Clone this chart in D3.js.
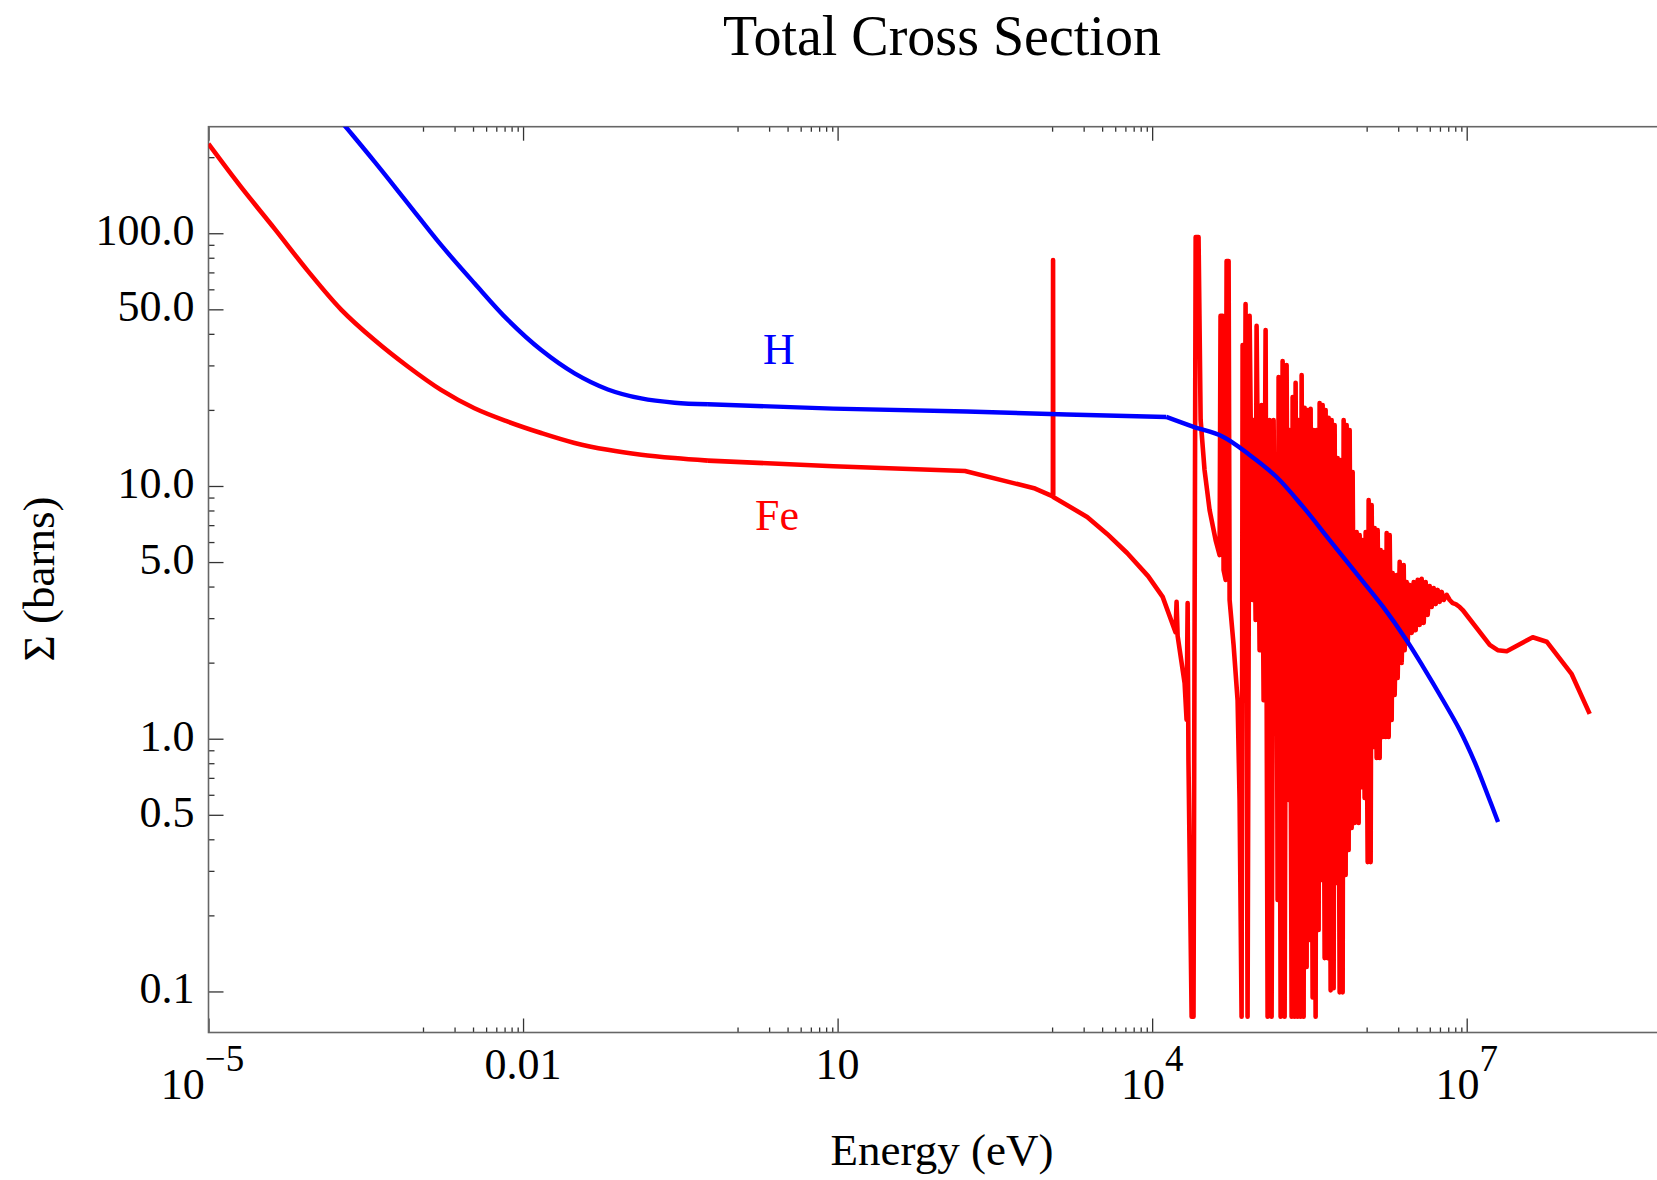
<!DOCTYPE html>
<html>
<head>
<meta charset="utf-8">
<script src="https://cdn.jsdelivr.net/npm/d3@7"></script>
<style>
  body { margin: 0; background: #fff; }
  svg text { font-family: "Liberation Serif", "Times New Roman", serif; }
</style>
</head>
<body>
<div id="chart-area"></div>
<script>
/*
*    Total cross section, H vs Fe (log-log)
*/

// ---- data: [energy (eV), sigma (barns)] ----
var hData = [
  [1.434e-4, 314.5], [1.908e-4, 272.4], [3.83e-4, 192.0], [7.96e-4, 131.4],
  [1.65e-3, 89.9], [3.44e-3, 63.4], [7.16e-3, 45.4], [0.0149, 34.5],
  [0.031, 27.9], [0.0644, 24.1], [0.134, 22.2], [0.279, 21.36], [0.58, 21.05],
  [9.1, 20.24], [170.6, 19.70], [1535, 19.18], [1.363e4, 18.76],
  [2.446e4, 17.17], [4.73e4, 15.67], [8.50e4, 13.27], [1.529e5, 10.88],
  [2.742e5, 8.28], [4.93e5, 6.11], [8.86e5, 4.51], [1.590e6, 3.33],
  [2.659e6, 2.46], [3.83e6, 1.93], [5.94e6, 1.42], [8.58e6, 1.083],
  [1.192e7, 0.808], [1.586e7, 0.599], [1.99e7, 0.468]
];

var feData = [
  [1e-5, 225.7], [2.04e-5, 152.5], [4.26e-5, 104.3], [8.85e-5, 71.0],
  [1.84e-4, 49.9], [3.83e-4, 37.8], [7.96e-4, 29.7], [1.65e-3, 24.0],
  [3.44e-3, 20.3], [7.16e-3, 17.97], [0.0149, 16.2], [0.031, 14.8],
  [0.0644, 13.9], [0.134, 13.3], [0.279, 12.9], [0.58, 12.6],
  [9.1, 11.97], [164, 11.47], [765, 9.77], [1130, 9.1], [1135, 78.3], [1140, 9.05],
  [2400, 7.54], [3720, 6.46], [5770, 5.43], [9150, 4.40], [1.26e4, 3.64],
  [1.67e4, 2.64], [1.71e4, 3.48], [1.75e4, 2.55], [2.04e4, 1.66], [2.13e4, 1.19],
  [2.18e4, 3.44], [2.22e4, 0.823], [2.38e4, 0.0794], [2.48e4, 0.0794],
  [2.60e4, 96.7], [2.77e4, 96.7], [2.90e4, 18.25], [3.16e4, 11.57], [3.53e4, 8.04],
  [4.03e4, 6.11], [4.40e4, 5.33], [4.49e4, 47.1], [4.70e4, 47.1], [4.80e4, 4.65],
  [5.02e4, 4.25], [5.13e4, 77.7], [5.36e4, 77.7], [5.48e4, 3.54], [5.98e4, 2.35],
  [6.53e4, 1.42], [6.82e4, 0.572], [7.13e4, 0.0794], [7.29e4, 36.1], [7.62e4, 5.10],
  [7.78e4, 52.5], [8.13e4, 0.0794], [8.50e4, 47.1], [9.08e4, 3.54], [9.28e4, 18.25],
  [9.70e4, 2.95], [9.91e4, 43.0], [1.059e5, 2.24], [1.106e5, 20.9], [1.156e5, 1.42],
  [1.208e5, 41.4], [1.262e5, 0.0794], [1.319e5, 18.25], [1.378e5, 0.0794],
  [1.44e5, 18.25], [1.505e5, 1.42], [1.538e5, 7.54], [1.572e5, 0.23], [1.607e5, 27.0],
  [1.68e5, 0.0794], [1.755e5, 31.2], [1.834e5, 0.0794], [1.916e5, 30.1], [2.0e5, 0.572],
  [2.047e5, 16.66], [2.139e5, 0.0794], [2.187e5, 22.5], [2.285e5, 0.0794],
  [2.335e5, 25.6], [2.44e5, 0.0794], [2.495e5, 18.25], [2.607e5, 0.0794],
  [2.665e5, 27.5], [2.784e5, 0.0794], [2.846e5, 20.4], [2.974e5, 0.125],
  [3.04e5, 19.99], [3.176e5, 0.16], [3.247e5, 20.2], [3.392e5, 0.0947],
  [3.468e5, 16.66], [3.623e5, 0.0794], [3.704e5, 16.66], [3.871e5, 0.175],
  [3.957e5, 21.3], [4.135e5, 0.276], [4.227e5, 20.9], [4.416e5, 0.1355],
  [4.514e5, 19.99], [4.717e5, 0.1355], [4.822e5, 18.6], [5.038e5, 0.101],
  [5.15e5, 18.25], [5.382e5, 0.103], [5.501e5, 17.44], [5.748e5, 0.269],
  [5.876e5, 12.9], [6.14e5, 0.0992], [6.276e5, 12.67], [6.558e5, 0.0992],
  [6.704e5, 18.25], [7.005e5, 0.289], [7.16e5, 17.44], [7.483e5, 0.363],
  [7.649e5, 16.66], [7.992e5, 0.4435], [8.17e5, 11.36], [8.536e5, 0.464],
  [8.92e5, 6.58], [9.321e5, 0.464], [9.528e5, 6.40], [9.956e5, 0.6435],
  [1.018e6, 6.11], [1.063e6, 0.583], [1.087e6, 6.58], [1.136e6, 0.325],
  [1.161e6, 8.80], [1.213e6, 0.325], [1.240e6, 8.41], [1.296e6, 0.927],
  [1.325e6, 6.82], [1.384e6, 0.839], [1.415e6, 6.70], [1.479e6, 0.839],
  [1.512e6, 5.58], [1.580e6, 1.016], [1.615e6, 5.48], [1.687e6, 1.016],
  [1.725e6, 6.52], [1.802e6, 1.016], [1.842e6, 6.40], [1.925e6, 1.186],
  [1.967e6, 4.52], [2.056e6, 1.49], [2.148e6, 4.44], [2.196e6, 1.739],
  [2.295e6, 5.01], [2.398e6, 1.995], [2.506e6, 4.87], [2.561e6, 2.24],
  [2.676e6, 4.17], [2.736e6, 2.39], [2.859e6, 4.06], [2.987e6, 2.62],
  [3.122e6, 4.17], [3.262e6, 2.69], [3.408e6, 4.25], [3.561e6, 2.82],
  [3.721e6, 4.29], [3.888e6, 2.87], [4.062e6, 4.17], [4.245e6, 3.09],
  [4.436e6, 4.02], [4.635e6, 3.32], [4.843e6, 3.95], [5.061e6, 3.41],
  [5.289e6, 3.88], [5.526e6, 3.48], [5.774e6, 3.81], [6.033e6, 3.54],
  [6.444e6, 3.71], [6.884e6, 3.54], [7.353e6, 3.44], [7.853e6, 3.41],
  [8.576e6, 3.32], [9.16e6, 3.23], [1.658e7, 2.35], [1.976e7, 2.24],
  [2.408e7, 2.22], [4.262e7, 2.52], [5.795e7, 2.42], [1.004e8, 1.80], [1.49e8, 1.254]
];

// ticks
var xMajor = [1e-5, 0.01, 10, 1e4, 1e7];
var xLabels = ["10^\u22125", "0.01", "10", "10^4", "10^7"];
var yMajor = [0.1, 0.5, 1, 5, 10, 50, 100];
var yLabels = ["0.1", "0.5", "1.0", "5.0", "10.0", "50.0", "100.0"];
var yMinor = [0.2, 0.3, 0.4, 0.6, 0.7, 0.8, 0.9, 2, 3, 4, 6, 7, 8, 9,
              20, 30, 40, 60, 70, 80, 90, 200];

// ---- layout ----
var W = 1657, H = 1180;
var plot = {left: 208.5, right: 1676.4, top: 126.7, bottom: 1032.5};

var svg = d3.select("#chart-area")
  .append("svg")
    .attr("width", W)
    .attr("height", H);

var xScale = d3.scaleLog()
  .domain([1e-5, 1e9])
  .range([plot.left, plot.right]);

var yScale = d3.scaleLog()
  .domain([0.0688, 264])
  .range([plot.bottom, plot.top]);

// minor x ticks sit at j/9 of each major (how the original frame does it)
var xMinor = [];
xMajor.forEach(function(m){
  for (var j = 1; j < 9; j++) {
    var v = m * j / 9;
    if (v > 1e-5) xMinor.push(v);
  }
});

// clip
svg.append("clipPath").attr("id", "clip")
  .append("rect")
    .attr("x", plot.left).attr("y", plot.top)
    .attr("width", plot.right - plot.left)
    .attr("height", plot.bottom - plot.top);

// ---- axes (ticks only, frame drawn separately) ----
function tickAxis(axis, vals, size, tx, ty) {
  var g = svg.append("g")
    .attr("transform", "translate(" + tx + "," + ty + ")")
    .call(axis.tickValues(vals).tickSizeInner(size).tickSizeOuter(0).tickFormat(""));
  g.select(".domain").remove();
  g.selectAll("line").attr("stroke", "#333").attr("stroke-width", 1.3);
  return g;
}

tickAxis(d3.axisBottom(xScale), xMajor, -14, 0, plot.bottom);
tickAxis(d3.axisBottom(xScale), xMinor, -5, 0, plot.bottom);
tickAxis(d3.axisTop(xScale), xMajor, -14, 0, plot.top);
tickAxis(d3.axisTop(xScale), xMinor, -5, 0, plot.top);
tickAxis(d3.axisLeft(yScale), yMajor, -15, plot.left, 0);
tickAxis(d3.axisLeft(yScale), yMinor, -6, plot.left, 0);

// frame
svg.append("rect")
  .attr("x", plot.left).attr("y", plot.top)
  .attr("width", plot.right - plot.left)
  .attr("height", plot.bottom - plot.top)
  .attr("fill", "none")
  .attr("stroke", "#666")
  .attr("stroke-width", 1.6);

// tick labels
yMajor.forEach(function(v, i){
  svg.append("text")
    .attr("x", plot.left - 14)
    .attr("y", yScale(v) + 12)
    .attr("text-anchor", "end")
    .attr("font-size", "44px")
    .text(yLabels[i]);
});

xMajor.forEach(function(v, i){
  var parts = xLabels[i].split("^");
  var t = svg.append("text")
    .attr("x", xScale(v) - (i === 0 ? 6 : 0))
    .attr("y", parts.length > 1 ? 1099 : 1079)
    .attr("text-anchor", "middle")
    .attr("font-size", "44px");
  t.append("tspan").text(parts[0]);
  if (parts.length > 1) {
    t.append("tspan")
      .attr("dy", -28)
      .attr("font-size", "37px")
      .text(parts[1]);
  }
});

// ---- curves ----
var lineSmooth = d3.line()
  .x(function(d){ return xScale(d[0]); })
  .y(function(d){ return yScale(d[1]); })
  .curve(d3.curveCatmullRom.alpha(0.5));

var lineStraight = d3.line()
  .x(function(d){ return xScale(d[0]); })
  .y(function(d){ return yScale(d[1]); });

var curves = svg.append("g").attr("clip-path", "url(#clip)");

function drawPart(data, gen, color, w) {
  curves.append("path")
    .attr("d", gen(data))
    .attr("fill", "none")
    .attr("stroke", color)
    .attr("stroke-width", w)
    .attr("stroke-linejoin", "round")
    .attr("stroke-linecap", "butt");
}

// Fe first, H on top
drawPart(feData.filter(function(d){ return d[0] <= 0.58; }), lineSmooth, "#ff0000", 4.6);
drawPart(feData.filter(function(d){ return d[0] >= 0.58; }), lineStraight, "#ff0000", 4.6);

drawPart(hData.filter(function(d){ return d[0] <= 0.58; }), lineSmooth, "#0000ff", 4.4);
drawPart(hData.filter(function(d){ return d[0] >= 0.58 && d[0] <= 1.363e4; }), lineStraight, "#0000ff", 4.4);
drawPart(hData.filter(function(d){ return d[0] >= 1.363e4; }), lineSmooth, "#0000ff", 4.4);

// series labels
svg.append("text")
  .attr("x", 779).attr("y", 364)
  .attr("text-anchor", "middle")
  .attr("font-size", "44px")
  .attr("fill", "#0000ff")
  .text("H");

svg.append("text")
  .attr("x", 777).attr("y", 530)
  .attr("text-anchor", "middle")
  .attr("font-size", "44px")
  .attr("fill", "#ff0000")
  .text("Fe");

// titles
svg.append("text")
  .attr("x", 942).attr("y", 55)
  .attr("text-anchor", "middle")
  .attr("font-size", "56px")
  .text("Total Cross Section");

svg.append("text")
  .attr("x", 942).attr("y", 1165)
  .attr("text-anchor", "middle")
  .attr("font-size", "45px")
  .text("Energy (eV)");

svg.append("text")
  .attr("transform", "translate(54,579) rotate(-90)")
  .attr("text-anchor", "middle")
  .attr("font-size", "45px")
  .text("\u03A3 (barns)");
</script>
</body>
</html>
